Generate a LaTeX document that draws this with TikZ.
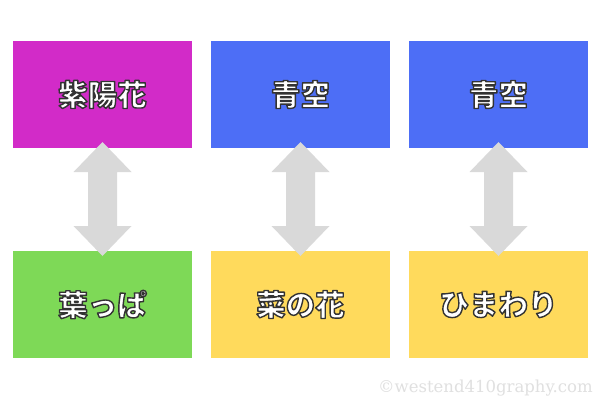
\documentclass[tikz,border=0pt]{standalone}
\usetikzlibrary{calc}
\usepackage{fontspec}
\newfontfamily\jpfont{Noto Sans CJK JP Black}
\newfontfamily\wmfont{DejaVu Serif}
\definecolor{cmag}{HTML}{D22BC8}
\definecolor{cblue}{HTML}{4D6EF6}
\definecolor{cgreen}{HTML}{7ED957}
\definecolor{cyellow}{HTML}{FFDA5C}
\definecolor{carrow}{HTML}{D9D9D9}
\definecolor{cwm}{HTML}{E0E0E0}
\newcommand{\olabel}[1]{\textcolor{white}{\special{pdf:literal direct 2 Tr 1.4 w 1 j 0.2 0.2 0.2 RG}#1\special{pdf:literal direct 0 Tr 0.4 w 0 j}}}
\begin{document}
\begin{tikzpicture}[x=1pt,y=-1pt,
  box/.style={minimum width=179pt,minimum height=107pt,inner sep=0pt,outer sep=0pt,
    font=\jpfont\fontsize{29.5}{32}\selectfont},
  dblarrow/.style={fill=carrow,draw=none}]
\useasboundingbox (0,0) rectangle (600,400);
\fill[white] (0,0) rectangle (600,400);
\node[box,fill=cmag]    (a1) at (102.5,94.5)  {\olabel{紫陽花}};
\node[box,fill=cblue]   (a2) at (300.5,94.5)  {\olabel{青空}};
\node[box,fill=cblue]   (a3) at (498.5,94.5)  {\olabel{青空}};
\node[box,fill=cgreen]  (b1) at (102.5,304.5) {\olabel{葉っぱ}};
\node[box,fill=cyellow] (b2) at (300.5,304.5) {\olabel{菜の花}};
\node[box,fill=cyellow] (b3) at (498.5,304.5) {\olabel{ひまわり}};
\foreach \t/\b in {a1/b1,a2/b2,a3/b3}{
  \fill[dblarrow] ($(\t.south)+(0,-6)$) -- ++(29,30) -- ++(-14.5,0) -- ++(0,54)
    -- ++(14.5,0) -- ($(\b.north)+(0,5)$) -- ++(-29,-30) -- ++(14.5,0) -- ++(0,-54)
    -- ++(-14.5,0) -- cycle;
}
\node[font=\wmfont\fontsize{16.5}{18}\selectfont,text=cwm,anchor=base east,inner sep=0pt] (wm) at (593,392) {©westend410graphy.com};
\end{tikzpicture}
\end{document}
